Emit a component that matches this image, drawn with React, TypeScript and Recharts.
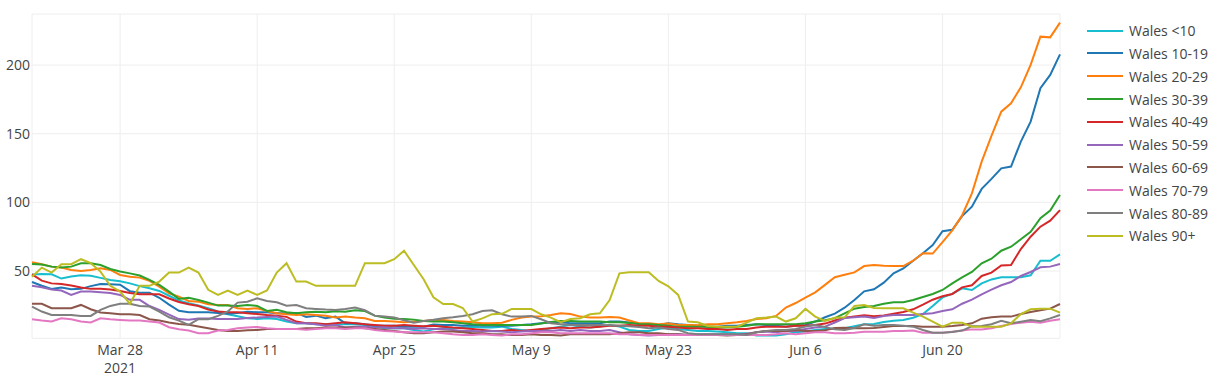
import { LineChart, Line, XAxis, YAxis, CartesianGrid, Legend } from 'recharts';

const FONT = '"Open Sans", verdana, arial, sans-serif';

// daily values, 19 Mar 2021 .. 2 Jul 2021
const lt10 = [
  47.5, 47.8, 47.6, 44.5, 46, 47, 46.5, 45, 43.5, 42.5,
  41, 39, 37.5, 35.5, 32, 28.5, 26.5, 25, 23, 20.5,
  18.5, 17, 15.6, 15.1, 15.6, 15.1, 13.2, 12, 12, 11.2,
  11.2, 11.2, 11.2, 11.2, 10.7, 9.8, 8.3, 8.3, 8.3, 7.1,
  5.9, 7.5, 8.3, 8.3, 8.8, 9.5, 8.8, 8.8, 9.5, 7.8,
  7.1, 6.4, 7.1, 8.3, 9.5, 10.7, 9.5, 8.8, 9.5, 10.7,
  9.5, 7.1, 6.3, 6.4, 7.8, 8.8, 7.8, 7.1, 6.4, 6.4,
  5.9, 5.4, 4.7, 4.7, 3, 3, 3, 3.9, 5.4, 5.9,
  7.1, 7.8, 8, 8.3, 9.7, 11.2, 11.4, 12.9, 13.8, 14.3,
  16, 18.7, 24.5, 30.8, 33.3, 37.4, 36.2, 41, 43.9, 45.4,
  45.4, 45.4, 46.9, 57.5, 57.5, 62.1,
];
const a10to19 = [
  42, 39.3, 37, 38, 36.8, 37, 39, 40.5, 40.3, 40,
  35.3, 34.2, 34.2, 30.5, 25.5, 21, 20, 20, 20, 19.5,
  18.8, 19.5, 20.4, 20, 20, 19.2, 19.2, 19.5, 16.6, 17.5,
  15.6, 16.8, 11.9, 11.9, 11.2, 10.2, 10.2, 10.2, 9.5, 9.5,
  9.5, 11, 10.7, 10.7, 10.2, 10.7, 10.2, 10.2, 10.2, 10.2,
  10.7, 11.2, 12, 12.7, 12.7, 12, 12, 12, 12, 13.2,
  13.2, 12.5, 11.6, 11.2, 10.7, 12, 11.2, 10.7, 10.2, 9.5,
  9.5, 10.2, 10.2, 10.7, 11.2, 10.7, 10.2, 9.5, 10.2, 10.7,
  13.2, 16.3, 19, 23.3, 28.9, 35.2, 36.7, 41.5, 48.3, 51.9,
  57.5, 62.9, 68.9, 79, 80, 90, 96.9, 109.8, 117.1, 124.8,
  126.1, 144.3, 158.8, 183.1, 192.8, 207.8,
];
const a20to29 = [
  56.4, 54.9, 53.2, 52.5, 50.8, 50, 50.8, 52, 50.8, 47.1,
  45.9, 45.2, 42.8, 38.6, 33.8, 31.4, 28.2, 27.7, 25.8, 25.3,
  25.3, 22.9, 22.4, 22.9, 20.9, 19.2, 18.5, 18, 18.5, 18,
  17.5, 16.1, 16.8, 16.1, 15.6, 13.6, 13.6, 13.2, 12.7, 13.2,
  13.6, 14.4, 14.4, 13.6, 13.2, 12.7, 12, 12, 12.4, 14.4,
  16.1, 16.8, 17, 18, 19.2, 18.7, 16.8, 16.1, 16.1, 16.6,
  16.1, 14, 12, 12, 11.2, 11.7, 10.7, 10.7, 10.5, 11.2,
  11.2, 12, 12.7, 13.6, 15.1, 15.6, 17.3, 23.4, 26.7, 30.6,
  34.5, 39.9, 45.5, 47.3, 49, 53.6, 54.4, 53.9, 53.6, 53.6,
  57.5, 63, 62.7, 71, 79.6, 90.5, 106.6, 129.7, 148.4, 166.1,
  172.2, 183.8, 200.1, 220.7, 220.2, 230.9,
];
const a30to39 = [
  55.1, 54.7, 53.2, 52.5, 53.2, 55.6, 55.6, 54.4, 51.5, 49.6,
  48.3, 46.7, 43.5, 39.9, 35, 29.7, 30.6, 28.9, 27, 24.8,
  24.8, 24.5, 25.3, 24.6, 20.9, 21.7, 20, 19.2, 20, 20.4,
  20, 20.7, 20.4, 21.4, 20.9, 17.5, 16.1, 15.3, 15.1, 14.6,
  13.6, 13.2, 13.2, 12.7, 12, 11.2, 10.7, 10.7, 10.7, 10.7,
  10.7, 10.7, 11.7, 12.9, 13.6, 13.6, 13.2, 13.2, 13.2, 12.7,
  12.7, 12.2, 11.5, 11.2, 10.7, 10.2, 9.5, 9.5, 9.5, 9.5,
  8.8, 8.8, 9.5, 10.2, 11.2, 11.2, 11.2, 11.2, 11.2, 12,
  13.2, 14.1, 15.7, 19.2, 22.6, 23.8, 24.5, 26.2, 27.2, 27.2,
  28.9, 31.1, 33.3, 36.2, 41, 45.4, 49.3, 55.6, 59, 64.8,
  67.7, 73.1, 78.5, 88.5, 94, 105.4,
];
const a40to49 = [
  47.5, 43, 41, 40.5, 39.5, 38, 37, 37, 36.5, 35.5,
  34, 33, 33, 33, 30, 27.5, 25.8, 24.5, 22, 20.5,
  20, 20, 19.2, 18.7, 18, 17.5, 16.6, 13.2, 12, 12,
  11.2, 12, 12.7, 12, 11.2, 10.7, 10.2, 10.2, 10.7, 10.2,
  9.8, 10.1, 9.5, 8.8, 8.3, 7.8, 7.1, 6.4, 6.4, 7.1,
  6.4, 7.1, 7.8, 8.3, 8.8, 8.3, 8.8, 8.8, 9.5, 10.2,
  10.2, 10.7, 10.2, 10.2, 9.5, 9.5, 8.8, 8.3, 8.3, 7.8,
  7.8, 7.1, 7.8, 7.8, 8.8, 9.5, 9.5, 9.5, 10.2, 10.2,
  10.7, 11.7, 14, 16, 16.8, 17.7, 17, 17.7, 18.9, 20.2,
  22.1, 25.5, 29.1, 31.6, 33.3, 38.1, 39.6, 46.4, 48.8, 54.1,
  54.4, 66, 75, 82.3, 86.7, 94.4,
];
const a50to59 = [
  39.2, 38.2, 36.5, 35.8, 32.6, 35, 35, 34.5, 34, 32.6,
  29, 29, 24.5, 21.7, 18.3, 15, 14.5, 15.5, 15.5, 15,
  15, 15, 15.8, 16.1, 16.6, 16.8, 14.4, 12, 12, 11.2,
  10.2, 10.7, 8.8, 9.5, 9.5, 8.8, 8.8, 8.3, 8.3, 7.8,
  8.3, 7.8, 7.8, 7.1, 6.4, 6.4, 5.9, 6.4, 5.9, 5.4,
  5.9, 6.4, 6.4, 6.4, 7.1, 6.4, 7.1, 6.4, 6.4, 7.1,
  5.4, 3.9, 3.4, 3, 3.4, 3.9, 3.9, 3.4, 3.9, 3.9,
  3.9, 3.9, 3.4, 4.4, 5.4, 5.9, 5.4, 6.4, 6.4, 7.8,
  8.8, 9.5, 12.5, 15.8, 16.3, 16.8, 15.8, 17.2, 18, 18,
  18, 18.7, 19.2, 20.9, 22.1, 26.2, 29.1, 33, 36.4, 39.6,
  42, 46.4, 49.3, 52.7, 53.2, 55.1,
];
const a60to69 = [
  26.1, 26.1, 22.9, 22.9, 22.9, 25.3, 22.2, 19.8, 19.3, 18.5,
  18.5, 18, 14.9, 13.9, 12.5, 11.5, 10.8, 9.6, 8.3, 7.1,
  6.4, 6.4, 6.9, 7.1, 7.8, 7.8, 7.8, 7.8, 8.3, 8.3,
  8.8, 8.8, 8.8, 8.8, 8.3, 7.8, 7.1, 6.4, 5.4, 4.7,
  4.7, 5.4, 5.9, 5.9, 5.4, 4.7, 4.7, 3.9, 3.9, 3.4,
  3.4, 3.9, 3.4, 3.4, 3, 3.9, 3.9, 3.9, 3.9, 3.9,
  4.7, 5.4, 5.4, 4.7, 4.7, 3.9, 3.9, 3.4, 3.4, 3.4,
  3.4, 3, 3.4, 3.9, 5.4, 6.4, 6.4, 6.4, 7.1, 6.4,
  6.4, 6.8, 8.5, 8.7, 8.3, 8.3, 8.5, 9.2, 10, 10,
  10, 9.5, 9.5, 9.5, 10, 10.7, 11.9, 15.3, 16.3, 16.8,
  16.8, 18.7, 20.2, 21.4, 22.6, 26,
];
const a70to79 = [
  14.9, 13.9, 13.2, 15.6, 14.9, 13.2, 12.5, 15.6, 14.9, 14.4,
  13.9, 13.9, 13.2, 12.5, 9.1, 7.6, 6.7, 4.7, 4.7, 6.7,
  7.1, 8.3, 8.8, 9.3, 8.3, 7.8, 7.8, 7.8, 7.3, 7.8,
  8.3, 8.3, 7.8, 8.3, 8.3, 7.1, 6.4, 5.9, 5.4, 5.4,
  5.4, 5.4, 4.7, 3.9, 3.4, 3.4, 3.9, 3.4, 3, 3.9,
  3.9, 4.7, 5.4, 5.4, 4.7, 4.7, 4.7, 4.7, 4.7, 4.7,
  3.9, 3.9, 3.4, 3.4, 3.4, 3.4, 3.4, 3.4, 3.4, 3.4,
  3.4, 3.4, 3.4, 3.4, 3.4, 3.4, 3.9, 4.7, 3.9, 4.7,
  5.4, 5.4, 4.6, 4.6, 5.1, 5.8, 5.8, 5.8, 6.3, 6.3,
  6.6, 5.1, 5.1, 5.1, 5.8, 6.6, 7.5, 7.5, 8.3, 10,
  11.4, 12.4, 13.1, 12.4, 13.8, 14.8,
];
const a80to89 = [
  24.1, 20.5, 18, 18, 18, 17.3, 17.3, 21.7, 24.6, 26.1,
  26.1, 24.6, 24.1, 20.5, 16.3, 13.9, 10.8, 14.9, 14.9, 17.3,
  20.5, 27, 27.7, 30.1, 28.2, 27.2, 24.8, 25.3, 22.9, 22.4,
  21.9, 21.7, 22.4, 23.4, 21.4, 17.5, 16.8, 16.1, 14.1, 12.4,
  13.6, 14.5, 15.6, 16.3, 17.3, 18.5, 20.9, 21.4, 18.5, 16.8,
  16.8, 17.3, 14.9, 12, 11.2, 10.7, 10.7, 10.7, 10.7, 10.5,
  10.2, 9.8, 9.2, 8.3, 8.8, 7.8, 7.1, 4.7, 3.9, 3.9,
  3.9, 3.9, 3.9, 3.4, 5.4, 6.4, 7.1, 7.1, 7.8, 9.5,
  10.7, 9.3, 7.5, 7, 8.5, 11.2, 10.2, 10.7, 10.7, 10.2,
  9.5, 7, 5.1, 5.1, 5.6, 6.6, 9.7, 10, 11.2, 13.8,
  11.9, 13.1, 14.3, 13.4, 15.5, 18,
];
const a90plus = [
  45.9, 52.5, 48.9, 55, 55, 58.6, 55.7, 49.6, 39.2, 35,
  26.1, 39.2, 39.2, 42.3, 48.9, 48.9, 52.5, 48.9, 36.3, 32.6,
  35.8, 32.6, 35.8, 32.6, 35.8, 48.9, 55.7, 42.3, 42.3, 39.2,
  39.2, 39.2, 39.2, 39.2, 55.7, 55.7, 55.7, 58.6, 64.8, 54.4,
  44, 30.9, 26, 26, 23.1, 13.2, 15.5, 18.6, 18.8, 22.4,
  22.4, 22.3, 18.5, 16.1, 12.7, 15.1, 15.6, 18.5, 19.2, 28.9,
  48.3, 49.1, 49.1, 49.1, 42.8, 38.9, 32.6, 13.2, 12.7, 10,
  9.5, 9.5, 9.5, 12.4, 15.6, 16.1, 16.8, 13.2, 15.6, 22.4,
  16.8, 13.6, 16, 16.3, 24.5, 25.2, 23.1, 22.8, 22.8, 22.8,
  19.7, 16.8, 13.1, 9.5, 12.4, 12.4, 9.5, 9.5, 9.5, 9.5,
  11.9, 18.7, 22.1, 22.6, 22.6, 19.7,
];

// x ticks: day offsets from 19 Mar 2021
const tickDays = [9, 23, 37, 51, 65, 79, 93];
const tickLabels = ['Mar 28', 'Apr 11', 'Apr 25', 'May 9', 'May 23', 'Jun 6', 'Jun 20'];
const tickYears = ['2021', '', '', '', '', '', ''];
const yTicks = [50, 100, 150, 200];

const series = [
  { key: 'lt10', name: 'Wales <10', color: '#17becf', values: lt10 },
  { key: 'a10', name: 'Wales 10-19', color: '#1f77b4', values: a10to19 },
  { key: 'a20', name: 'Wales 20-29', color: '#ff7f0e', values: a20to29 },
  { key: 'a30', name: 'Wales 30-39', color: '#2ca02c', values: a30to39 },
  { key: 'a40', name: 'Wales 40-49', color: '#d62728', values: a40to49 },
  { key: 'a50', name: 'Wales 50-59', color: '#9467bd', values: a50to59 },
  { key: 'a60', name: 'Wales 60-69', color: '#8c564b', values: a60to69 },
  { key: 'a70', name: 'Wales 70-79', color: '#e377c2', values: a70to79 },
  { key: 'a80', name: 'Wales 80-89', color: '#7f7f7f', values: a80to89 },
  { key: 'a90', name: 'Wales 90+', color: '#bcbd22', values: a90plus },
];

const data = lt10.map((_, i) => {
  const row: Record<string, number> = { day: i };
  series.forEach((s) => { row[s.key] = s.values[i]; });
  return row;
});

const DateTick = (props: any) => {
  const { x, y, payload } = props;
  const idx = tickDays.indexOf(payload.value);
  return (
    <text x={x} y={y} textAnchor="middle" fill="#444" fontSize={14} fontFamily={FONT}>
      <tspan x={x} dy="0.71em">{tickLabels[idx]}</tspan>
      {tickYears[idx] && <tspan x={x} dy={18}>{tickYears[idx]}</tspan>}
    </text>
  );
};

const renderLegend = () => (
  <div style={{ fontFamily: FONT, fontSize: 14, color: '#444' }}>
    {series.map((s) => (
      <div key={s.key} style={{ display: 'flex', alignItems: 'center', height: 22.8, whiteSpace: 'nowrap' }}>
        <span style={{ display: 'inline-block', width: 36, height: 2, background: s.color, marginRight: 6 }} />
        <span>{s.name}</span>
      </div>
    ))}
  </div>
);

export default function App() {
  return (
    <div style={{ position: 'absolute', left: 0, top: 0, width: 1221, height: 385, background: '#fff' }}>
      <LineChart width={1221} height={385} data={data} margin={{ top: 14, right: 161, bottom: 6.7, left: 0 }}>
        <CartesianGrid stroke="#eee" />
        <XAxis
          dataKey="day"
          type="number"
          domain={[0, 105]}
          ticks={tickDays}
          tick={<DateTick />}
          height={40}
          axisLine={false}
          tickLine={false}
          tickSize={0}
          tickMargin={7}
          interval={0}
        />
        <YAxis
          type="number"
          domain={[1, 237.2]}
          ticks={yTicks}
          allowDataOverflow
          width={32}
          axisLine={false}
          tickLine={false}
          tickSize={0}
          tickMargin={2}
          tick={{ fill: '#444', fontSize: 14, fontFamily: FONT }}
        />
        <Legend
          layout="vertical"
          align="center"
          verticalAlign="middle"
          content={renderLegend}
          wrapperStyle={{ left: 1087, top: 19.3, width: 134 }}
        />
        {series.map((s) => (
          <Line
            key={s.key}
            type="linear"
            dataKey={s.key}
            name={s.name}
            stroke={s.color}
            strokeWidth={2}
            dot={false}
            activeDot={false}
            isAnimationActive={false}
          />
        ))}
      </LineChart>
    </div>
  );
}
